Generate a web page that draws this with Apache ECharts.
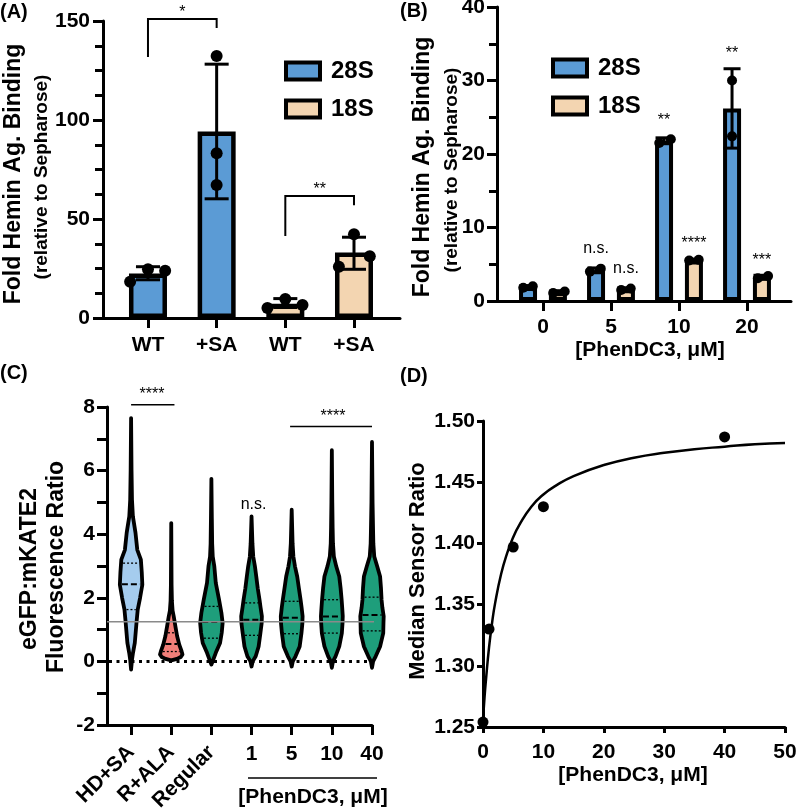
<!DOCTYPE html>
<html>
<head>
<meta charset="utf-8">
<script src="https://cdn.jsdelivr.net/npm/echarts@6/dist/echarts.min.js"></script>
<style>html,body{margin:0;padding:0;background:#fff}#c{width:798px;height:809px}</style>
</head>
<body>
<div id="c"></div>
<script>
// ---------------- Panel A ----------------
const catA = ['WT', '+SA', 'WT', '+SA'];
const barA28S = [22.5, 94.2, null, null];
const barA18S = [null, null, 7.2, 33.1];
// [category, jitter (category units), low, high]
const errA = [[0, 0, 19.3, 25.9], [1, 0, 60.2, 128.2], [2, 0, 5.3, 9.8], [3, 0, 24.6, 40.8]];
// [category, jitter, value]
const ptsA = [[0, -0.26, 18.3], [0, 0, 24.6], [0, 0.25, 23.9],
              [1, 0, 132.3], [1, 0, 83.2], [1, 0, 67.2],
              [2, -0.26, 5.0], [2, 0, 9.6], [2, 0.25, 6.6],
              [3, -0.22, 25.9], [3, 0, 42.3], [3, 0.23, 31.2]];
// [from cat, to cat, left leg end, top, right leg end, text value]
const bracketsA = [[0, 1, 131.8, 151, 146.5, 154], [2, 3, 41.4, 61.6, 57, 64.6]];
const bracketTextA = ['*', '**'];

// ---------------- Panel B ----------------
const catB = ['0', '5', '10', '20'];
const barB28S = [1.9, 4.2, 21.8, 26.2];
const barB18S = [1.2, 1.6, 5.5, 3.3];
const errB = [[0, -0.22, 1.7, 2.1], [0, 0.22, 1.0, 1.4], [1, -0.22, 3.9, 4.5], [1, 0.22, 1.4, 1.8],
              [2, -0.22, 21.4, 22.2], [2, 0.22, 5.3, 5.7], [3, -0.22, 20.8, 31.6], [3, 0.22, 3.0, 3.5]];
const ptsB = [[0, -0.29, 1.8], [0, -0.15, 2.0], [0, 0.15, 1.1], [0, 0.32, 1.3],
              [1, -0.31, 4.0], [1, -0.15, 4.4], [1, 0.15, 1.5], [1, 0.29, 1.7],
              [2, -0.29, 21.5], [2, -0.12, 22.0], [2, 0.15, 5.5], [2, 0.29, 5.6],
              [3, -0.22, 30.0], [3, -0.22, 22.4], [3, 0.16, 3.1], [3, 0.31, 3.4]];
// [category, offset, value]
const labelPosB = [[1, -0.22, 7.07], [1, 0.22, 4.35], [2, -0.22, 24.56], [2, 0.22, 7.76], [3, -0.22, 33.6], [3, 0.22, 5.44]];
const labelTextB = ['n.s.', 'n.s.', '**', '****', '**', '***'];

// ---------------- Panel C ----------------
const catC = ['HD+SA', 'R+ALA', 'Regular', '1', '5', '10', '40'];
// violin outlines: [value, relative half-width]
const violinC = [
  [[-0.26,0],[0.05,0.08],[0.27,0.17],[0.58,0.33],[1.25,0.49],[1.63,0.59],[2.0,0.8],[2.41,1.0],[2.8,0.95],[3.2,0.87],[3.51,0.55],[4.05,0.39],[4.56,0.16],[5.08,0.08],[6.0,0.04],[7.65,0]],
  [[0.03,0],[0.08,0.5],[0.14,0.85],[0.22,1.0],[0.32,0.92],[0.52,0.72],[0.8,0.52],[1.1,0.37],[1.42,0.22],[1.6,0.12],[1.9,0.06],[2.4,0.03],[4.35,0]],
  [[-0.1,0],[0.05,0.16],[0.27,0.39],[0.58,0.77],[0.9,0.92],[1.21,1.0],[1.53,0.89],[1.94,0.68],[2.47,0.39],[2.99,0.26],[3.3,0.12],[3.7,0.07],[4.5,0.04],[5.74,0]],
  [[-0.16,0],[0.0,0.1],[0.16,0.37],[0.47,0.63],[0.89,0.79],[1.2,0.9],[1.42,0.92],[1.7,0.8],[1.94,0.71],[2.3,0.55],[2.67,0.42],[2.99,0.3],[3.3,0.15],[3.7,0.08],[4.56,0]],
  [[-0.16,0],[0.0,0.1],[0.16,0.34],[0.47,0.71],[0.89,0.87],[1.2,0.95],[1.42,0.97],[1.7,0.88],[1.94,0.79],[2.3,0.64],[2.67,0.49],[2.99,0.29],[3.3,0.15],[3.7,0.08],[4.77,0]],
  [[-0.2,0],[0.0,0.1],[0.16,0.33],[0.47,0.66],[0.89,0.89],[1.2,0.95],[1.42,0.97],[1.7,0.92],[1.94,0.87],[2.3,0.78],[2.67,0.66],[2.99,0.39],[3.3,0.18],[3.7,0.1],[4.2,0.07],[5.0,0.04],[6.64,0]],
  [[-0.2,0],[0.0,0.1],[0.16,0.33],[0.47,0.72],[0.89,1.0],[1.2,1.02],[1.42,1.04],[1.7,0.92],[1.94,0.85],[2.3,0.8],[2.67,0.72],[2.99,0.46],[3.3,0.2],[3.7,0.12],[4.04,0.1],[5.0,0.05],[6.9,0]]
];
const q1C = [1.63, 0.31, 0.73, 0.82, 0.87, 0.89, 0.96];
const medianC = [2.43, 0.55, 1.24, 1.31, 1.37, 1.41, 1.46];
const q3C = [3.09, 0.90, 1.73, 1.84, 1.89, 1.94, 2.02];
const referenceC = 1.25;
// [x from, x to, y]
const sigLinesC = [[0, 1.08, 8.07], [3.96, 6.0, 7.39]];
// [x, y]
const sigTextPosC = [[0.52, 8.39], [5.03, 7.7], [3.05, 4.93]];
const sigTextC = ['****', '****', 'n.s.'];

// ---------------- Panel D ----------------
const xD = [0, 1, 5, 10, 40];
const yD = [1.254, 1.330, 1.397, 1.430, 1.487];
const curveXD = [0, 0.25, 0.5, 1, 1.5, 2, 3, 4, 5, 6, 8, 10, 12, 15, 20, 25, 30, 35, 40, 45, 50];
const curveYD = [1.255, 1.274, 1.289, 1.315, 1.335, 1.351, 1.375, 1.392, 1.405, 1.415, 1.430, 1.440, 1.447, 1.455, 1.464, 1.470, 1.474, 1.477, 1.479, 1.481, 1.482];

// ---------------- styles ----------------
const F = 'Arial, "Liberation Sans", Helvetica, sans-serif';
const BLUE = '#5B9BD5', TAN = '#F3D5B1';
const violinColors = ['#A5CCEE', '#F27F79', '#1E9E7B', '#1E9E7B', '#1E9E7B', '#1E9E7B', '#1E9E7B'];

function isObj(o) { return o && typeof o === 'object' && !Array.isArray(o); }
function merge(a, b) {
  const r = Object.assign({}, a);
  for (const k in b) r[k] = (isObj(a[k]) && isObj(b[k])) ? merge(a[k], b[k]) : b[k];
  return r;
}
const baseAxis = {
  axisLine: { show: true, onZero: false, lineStyle: { color: '#000', width: 3 } },
  axisTick: { show: true, length: 10, lineStyle: { color: '#000', width: 3 } },
  axisLabel: { color: '#000', fontSize: 21, fontWeight: 'bold', fontFamily: F, margin: 12 },
  splitLine: { show: false }
};
const ax = o => merge(baseAxis, o);

const xAxis = [
  ax({ gridIndex: 0, type: 'value', position: 'bottom', min: -0.655, max: 3.67,
       axisTick: { customValues: [0, 1, 2, 3] },
       axisLabel: { customValues: [0, 1, 2, 3], margin: 17, formatter: v => catA[Math.round(v)] } }),
  ax({ gridIndex: 1, type: 'value', position: 'bottom', min: -0.676, max: 3.647,
       axisTick: { customValues: [0, 1, 2, 3] },
       axisLabel: { customValues: [0, 1, 2, 3], margin: 16, formatter: v => catB[Math.round(v)] } }),
  ax({ gridIndex: 2, type: 'value', position: 'bottom', min: -0.6, max: 6,
       axisTick: { customValues: [0, 1, 2, 3, 4, 5, 6] },
       axisLabel: { customValues: [0, 1, 2], rotate: 45, margin: 24, formatter: v => catC[Math.round(v)] } }),
  ax({ gridIndex: 2, type: 'value', position: 'bottom', offset: 0, min: -0.6, max: 6,
       axisLine: { show: false }, axisTick: { show: false },
       axisLabel: { customValues: [3, 4, 5, 6], margin: 19, formatter: v => catC[Math.round(v)] } }),
  ax({ gridIndex: 3, type: 'value', position: 'bottom', min: 0, max: 50, interval: 10,
       axisTick: { length: 6 }, axisLabel: { margin: 15 } })
];
const yAxis = [
  ax({ gridIndex: 0, type: 'value', min: 0, max: 150, interval: 50,
       minorTick: { show: true, splitNumber: 4, length: 8, lineStyle: { color: '#000', width: 3 } },
       axisLabel: { margin: 13 } }),
  ax({ gridIndex: 1, type: 'value', min: 0, max: 40, interval: 10,
       minorTick: { show: true, splitNumber: 2, length: 8, lineStyle: { color: '#000', width: 3 } },
       axisLabel: { margin: 12 } }),
  ax({ gridIndex: 2, type: 'value', min: -2, max: 8, interval: 2,
       minorTick: { show: true, splitNumber: 2, length: 10, lineStyle: { color: '#000', width: 3 } },
       axisLabel: { margin: 12 } }),
  ax({ gridIndex: 3, type: 'value', min: 1.25, max: 1.5, interval: 0.05,
       axisTick: { length: 6 },
       axisLabel: { margin: 8, formatter: v => v.toFixed(2) } })
];
const grid = [
  { left: 103, top: 21, width: 297, height: 297, outerBoundsMode: 'none', containLabel: false },
  { left: 497, top: 7, width: 294, height: 294, outerBoundsMode: 'none', containLabel: false },
  { left: 107, top: 407, width: 265, height: 318, outerBoundsMode: 'none', containLabel: false },
  { left: 483, top: 421, width: 302, height: 306, outerBoundsMode: 'none', containLabel: false }
];

function pairs(arr) { return arr.map((v, i) => v == null ? null : [i, v]).filter(Boolean); }

function errSeries(xi, yi, data, capFrac) {
  return { type: 'custom', xAxisIndex: xi, yAxisIndex: yi, z: 4, clip: false, silent: true, data,
    renderItem(params, api) {
      const x = api.value(0), dx = api.value(1), lo = api.value(2), hi = api.value(3);
      const unit = api.size([1, 0])[0];
      const t = api.coord([x, hi]), b = api.coord([x, lo]);
      const cx = t[0] + dx * unit, cap = capFrac * unit;
      const st = { stroke: '#000', lineWidth: 3 };
      return { type: 'group', children: [
        { type: 'line', shape: { x1: cx, y1: t[1], x2: cx, y2: b[1] }, style: st },
        { type: 'line', shape: { x1: cx - cap, y1: t[1], x2: cx + cap, y2: t[1] }, style: st },
        { type: 'line', shape: { x1: cx - cap, y1: b[1], x2: cx + cap, y2: b[1] }, style: st }
      ] };
    } };
}
function ptSeries(xi, yi, data, r) {
  return { type: 'custom', xAxisIndex: xi, yAxisIndex: yi, z: 5, clip: false, silent: true, data,
    renderItem(params, api) {
      const unit = api.size([1, 0])[0];
      const c = api.coord([api.value(0), api.value(2)]);
      return { type: 'circle', shape: { cx: c[0] + api.value(1) * unit, cy: c[1], r }, style: { fill: '#000' } };
    } };
}
function textSeries(xi, yi, data, texts, size) {
  return { type: 'custom', xAxisIndex: xi, yAxisIndex: yi, z: 6, clip: false, silent: true, data,
    renderItem(params, api) {
      const unit = api.size([1, 0])[0];
      const has3 = data[params.dataIndex].length === 3;
      const c = api.coord([api.value(0), has3 ? api.value(2) : api.value(1)]);
      const dx = has3 ? api.value(1) * unit : 0;
      return { type: 'text', x: c[0] + dx, y: c[1],
        style: { text: texts[params.dataIndex], fontSize: size, fontFamily: F, fill: '#000', align: 'center', verticalAlign: 'middle' } };
    } };
}

const series = [];
// Panel A
series.push({ type: 'bar', name: '28S', xAxisIndex: 0, yAxisIndex: 0, data: pairs(barA28S), barWidth: 38, barGap: '-100%',
  itemStyle: { color: BLUE, borderColor: '#000', borderWidth: 4.5 }, z: 2 });
series.push({ type: 'bar', name: '18S', xAxisIndex: 0, yAxisIndex: 0, data: pairs(barA18S), barWidth: 38, barGap: '-100%',
  itemStyle: { color: TAN, borderColor: '#000', borderWidth: 4.5 }, z: 2 });
series.push(errSeries(0, 0, errA, 0.175));
series.push(ptSeries(0, 0, ptsA, 6));
series.push({ type: 'custom', xAxisIndex: 0, yAxisIndex: 0, z: 6, clip: false, silent: true, data: bracketsA,
  renderItem(params, api) {
    const a = api.coord([api.value(0), api.value(2)]), b = api.coord([api.value(0), api.value(3)]);
    const c = api.coord([api.value(1), api.value(3)]), d = api.coord([api.value(1), api.value(4)]);
    const tp = api.coord([(api.value(0) + api.value(1)) / 2, api.value(5)]);
    return { type: 'group', children: [
      { type: 'polyline', shape: { points: [a, b, c, d] }, style: { stroke: '#000', lineWidth: 2, fill: null } },
      { type: 'text', x: tp[0], y: tp[1], style: { text: bracketTextA[params.dataIndex], fontSize: 16, fontFamily: F, fill: '#000', align: 'center', verticalAlign: 'middle' } }
    ] };
  } });

// Panel B
series.push({ type: 'bar', name: '28S', xAxisIndex: 1, yAxisIndex: 1, data: pairs(barB28S), barWidth: 18, barGap: '66%',
  itemStyle: { color: BLUE, borderColor: '#000', borderWidth: 4 }, z: 2 });
series.push({ type: 'bar', name: '18S', xAxisIndex: 1, yAxisIndex: 1, data: pairs(barB18S), barWidth: 18, barGap: '66%',
  itemStyle: { color: TAN, borderColor: '#000', borderWidth: 4 }, z: 2 });
series.push(errSeries(1, 1, errB, 0.125));
series.push(ptSeries(1, 1, ptsB, 5));
series.push(textSeries(1, 1, labelPosB, labelTextB, 16));

// Panel C
series.push({ type: 'line', xAxisIndex: 2, yAxisIndex: 2, z: 1, silent: true, showSymbol: false, clip: false,
  data: [[-0.55, 0], [5.95, 0]], lineStyle: { color: '#000', width: 3, type: [3, 4.5] } });
series.push({ type: 'custom', xAxisIndex: 2, yAxisIndex: 2, z: 2, clip: false, silent: true,
  data: catC.map((c, i) => [i, medianC[i]]),
  renderItem(params, api) {
    const i = params.dataIndex;
    const prof = violinC[i];
    const unit = api.size([1, 0])[0];
    const half = unit * 0.28;
    const right = prof.map(p => { const c = api.coord([i, p[0]]); return [c[0] + p[1] * half, c[1]]; });
    const left = prof.slice().reverse().map(p => { const c = api.coord([i, p[0]]); return [c[0] - p[1] * half, c[1]]; });
    const widthAt = y => {
      for (let k = 1; k < prof.length; k++) {
        if (y <= prof[k][0]) {
          const t = (y - prof[k - 1][0]) / (prof[k][0] - prof[k - 1][0]);
          return prof[k - 1][1] + t * (prof[k][1] - prof[k - 1][1]);
        }
      }
      return 0;
    };
    const qline = (y, dash, w) => {
      const c = api.coord([i, y]);
      const hw = Math.max(0, widthAt(y) * half - 2);
      return { type: 'line', shape: { x1: c[0] - hw, y1: c[1], x2: c[0] + hw, y2: c[1] },
        style: { stroke: '#000', lineWidth: w, lineDash: dash } };
    };
    return { type: 'group', children: [
      { type: 'polygon', shape: { points: right.concat(left) }, style: { fill: violinColors[i], stroke: '#000', lineWidth: 3.8, lineJoin: 'round' } },
      qline(q1C[i], [2, 2], 1.3),
      qline(medianC[i], [6, 3], 2),
      qline(q3C[i], [2, 2], 1.3)
    ] };
  } });
series.push({ type: 'line', xAxisIndex: 2, yAxisIndex: 2, z: 3, silent: true, showSymbol: false, clip: false,
  data: [[-0.6, referenceC], [6.25, referenceC]], lineStyle: { color: '#8a8a8a', width: 1.5 } });
series.push({ type: 'custom', xAxisIndex: 2, yAxisIndex: 2, z: 6, clip: false, silent: true, data: sigLinesC,
  renderItem(params, api) {
    const a = api.coord([api.value(0), api.value(2)]), b = api.coord([api.value(1), api.value(2)]);
    return { type: 'line', shape: { x1: a[0], y1: a[1], x2: b[0], y2: b[1] }, style: { stroke: '#000', lineWidth: 1.5 } };
  } });
series.push(textSeries(2, 2, sigTextPosC, sigTextC, 16));

// Panel D
series.push({ type: 'line', xAxisIndex: 4, yAxisIndex: 3, z: 3, silent: true, showSymbol: false, smooth: true, clip: false,
  data: curveXD.map((x, i) => [x, curveYD[i]]), lineStyle: { color: '#000', width: 2.5 } });
series.push({ type: 'scatter', xAxisIndex: 4, yAxisIndex: 3, z: 4, silent: true, clip: false, symbolSize: 11,
  data: xD.map((x, i) => [x, yD[i]]), itemStyle: { color: '#000', opacity: 1 } });

const legendBase = {
  orient: 'vertical', itemWidth: 34, itemHeight: 17, itemGap: 14, icon: 'rect', selectedMode: false,
  data: ['28S', '18S'],
  itemStyle: { borderColor: '#000', borderWidth: 4 },
  textStyle: { fontSize: 24, fontWeight: 'bold', color: '#000', fontFamily: F, padding: [0, 0, 0, 6] }
};
const legend = [Object.assign({ left: 279, top: 54 }, legendBase), Object.assign({ left: 546, top: 51 }, legendBase)];

function txt(x, y, text, size, opts) {
  return Object.assign({ type: 'text', x, y, silent: true,
    style: { text, fontSize: size, fontWeight: 'bold', fontFamily: F, fill: '#000', align: 'center', verticalAlign: 'middle' } }, opts || {});
}
function plabel(x, y, text) {
  return { type: 'text', x, y, silent: true,
    style: { text, fontSize: 20, fontWeight: 'bold', fontFamily: F, fill: '#000', align: 'left', verticalAlign: 'middle' } };
}
const ROT = Math.PI / 2;
const graphic = [
  plabel(0, 12, '(A)'),
  plabel(400, 11, '(B)'),
  plabel(0, 373, '(C)'),
  plabel(400, 376, '(D)'),
  txt(14, 174, 'Fold Hemin Ag. Binding', 23, { rotation: ROT }),
  txt(42, 177, '(relative to Sepharose)', 19, { rotation: ROT }),
  txt(423, 167, 'Fold Hemin Ag. Binding', 23, { rotation: ROT }),
  txt(452, 170, '(relative to Sepharose)', 19, { rotation: ROT }),
  txt(650, 350, '[PhenDC3, \u03bcM]', 21),
  txt(30, 569, 'eGFP:mKATE2', 23, { rotation: ROT }),
  txt(57, 567, 'Fluorescence Ratio', 23, { rotation: ROT }),
  { type: 'line', silent: true, shape: { x1: 248, y1: 778, x2: 377, y2: 778 }, style: { stroke: '#000', lineWidth: 1.5 } },
  txt(313, 797, '[PhenDC3, \u03bcM]', 21),
  txt(418, 571, 'Median Sensor Ratio', 22, { rotation: ROT }),
  txt(633, 775, '[PhenDC3, \u03bcM]', 21)
];

const chart = echarts.init(document.getElementById('c'), null, { renderer: 'canvas' });
chart.setOption({ animation: false, backgroundColor: '#fff', grid, xAxis, yAxis, series, legend, graphic });
</script>
</body>
</html>
